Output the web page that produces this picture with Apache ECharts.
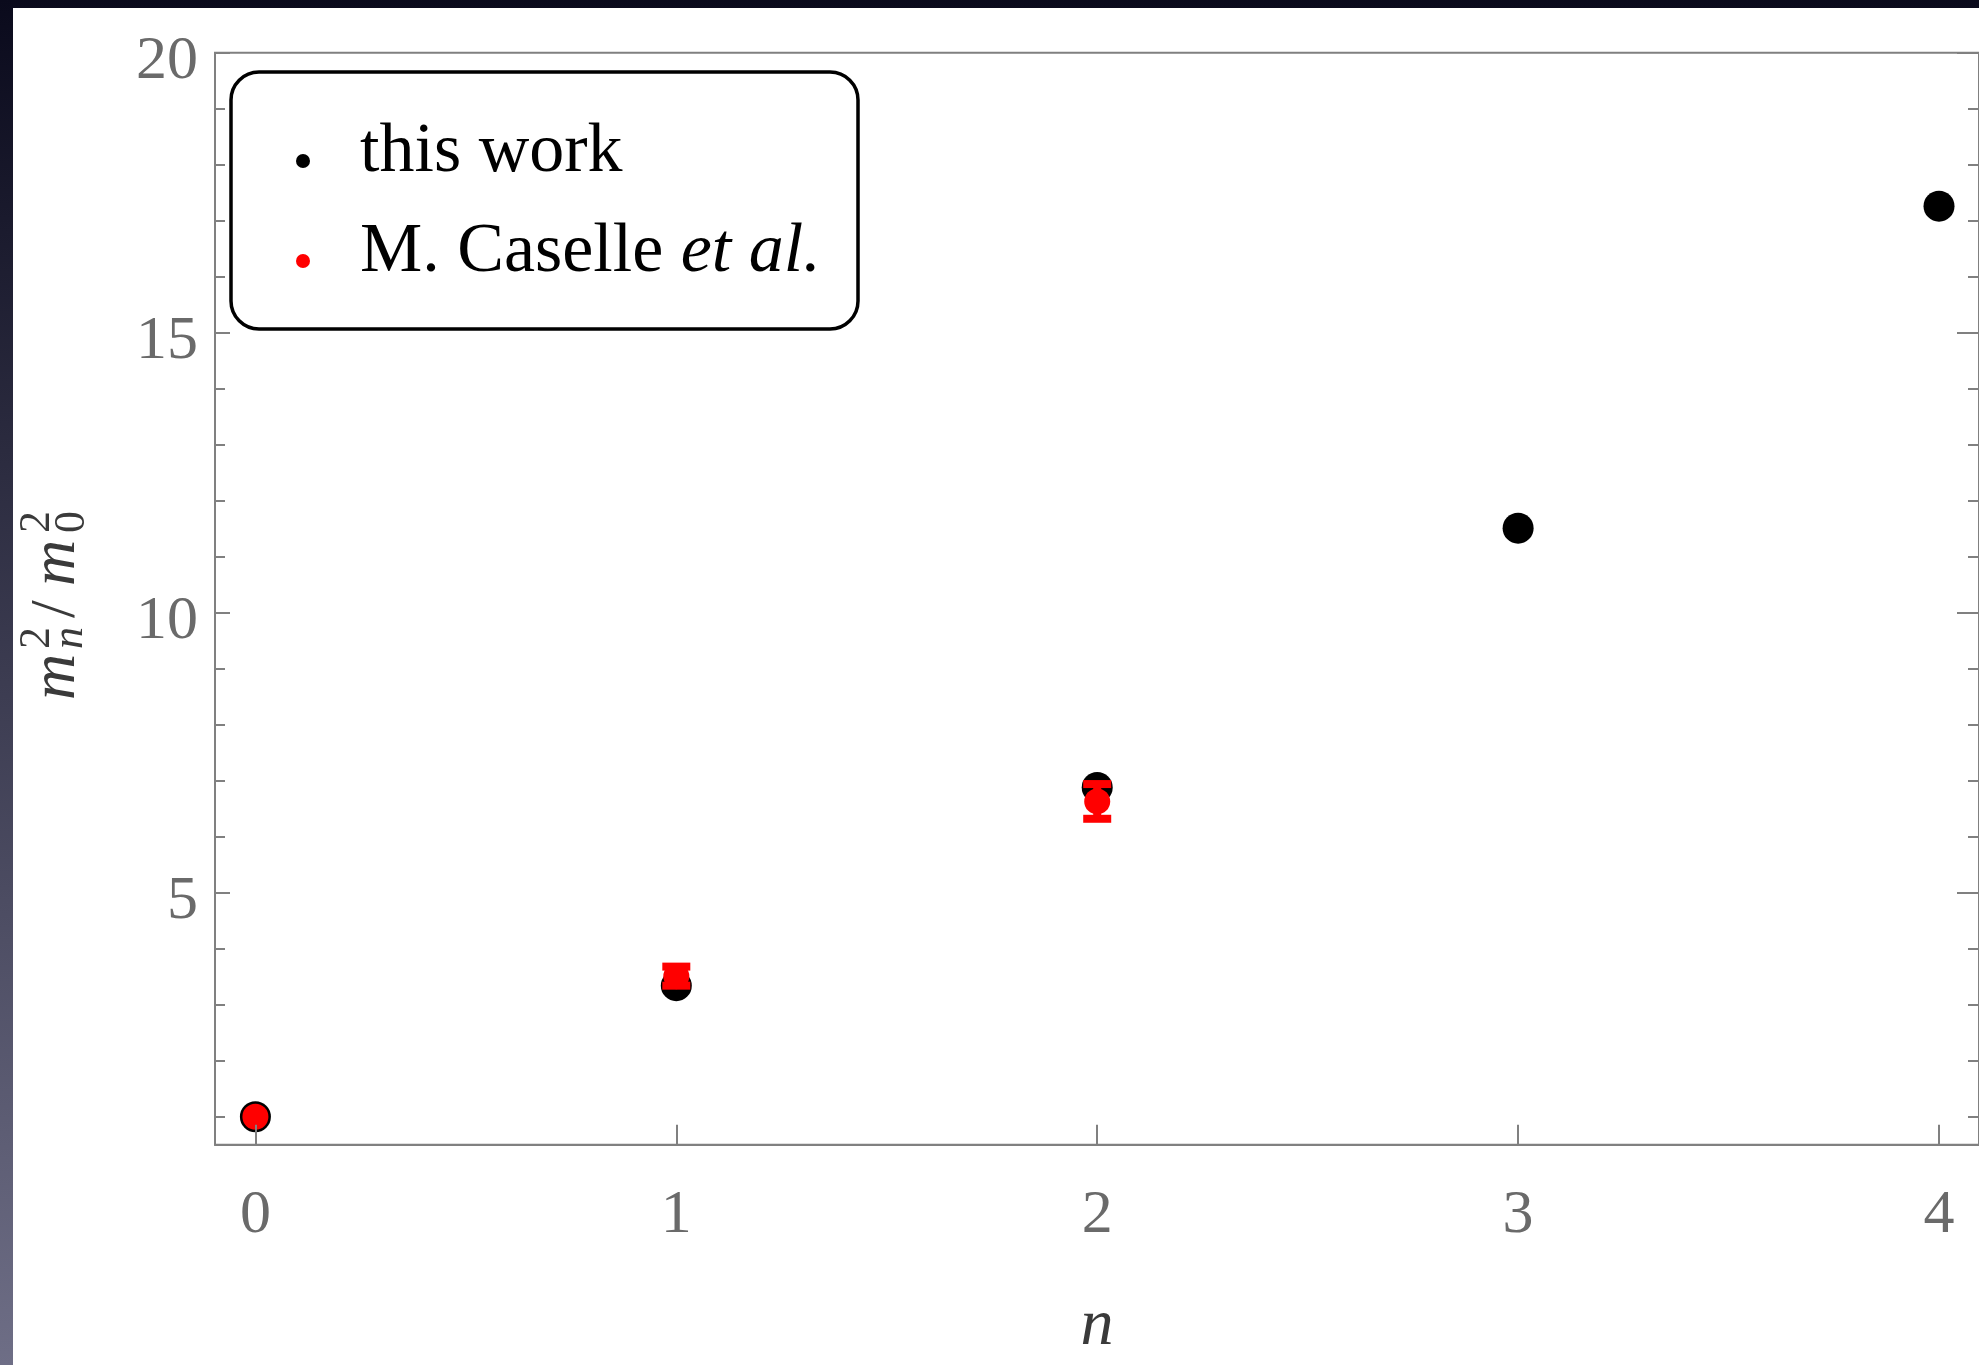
<!DOCTYPE html>
<html><head><meta charset="utf-8">
<script src="https://cdn.jsdelivr.net/npm/echarts@6/dist/echarts.min.js"></script>
<style>
html,body{margin:0;padding:0;width:1979px;height:1365px;overflow:hidden;background:linear-gradient(to bottom,#0a0a1c 0%,#6e6e86 100%);}
#paper{position:absolute;left:13px;top:8px;right:0;bottom:0;background:#fff;}
#chart{position:absolute;left:0;top:0;width:1979px;height:1365px;}
</style></head><body><div id="paper"></div><div id="chart"></div>
<script>
// ---- data ----
const nValues = [0, 1, 2, 3, 4];
const thisWork = [1.00, 3.34, 6.88, 11.51, 17.26];
const caselleN = [0, 1, 2];
const caselle = [1.00, 3.51, 6.63];
const caselleErr = [0, 0.17, 0.31];
const xTicks = [0, 1, 2, 3, 4];
const yMajorTicks = [5, 10, 15, 20];
const yMinorTicks = [1, 2, 3, 4, 6, 7, 8, 9, 11, 12, 13, 14, 16, 17, 18, 19];
const seriesNames = ['this work', 'M. Caselle et al.'];

const FONT = 'Liberation Serif';
const AXIS_COLOR = '#808080';
const LABEL_COLOR = '#6a6a6a';
const TITLE_COLOR = '#3a3a3a';

const chart = echarts.init(document.getElementById('chart'), null, {renderer: 'canvas'});

const yBase = {min: 0.5, max: 20, type: 'value', splitLine: {show: false}};
function yAxisCfg(pos, ticks, len, labels) {
  return Object.assign({}, yBase, {
    position: pos,
    axisLine: {show: false, onZero: false},
    axisTick: {show: true, inside: true, length: len, customValues: ticks,
      lineStyle: {color: AXIS_COLOR, width: 2}},
    axisLabel: labels ? {show: true, customValues: yMajorTicks, margin: 17,
      formatter: function (v) { return '{v|' + v + '}'; },
      rich: {v: {fontFamily: FONT, fontSize: 62, color: LABEL_COLOR, padding: [18, 0, 0, 0]}},
      fontFamily: FONT, fontSize: 62, color: LABEL_COLOR} : {show: false}
  });
}

const option = {
  backgroundColor: 'transparent',
  animation: false,
  grid: {left: 215, top: 52.7, width: 1765, height: 1092, show: true,
    borderColor: AXIS_COLOR, borderWidth: 2, backgroundColor: 'transparent', containLabel: false},
  xAxis: {
    type: 'value', min: -0.096, max: 4.095, z: 10,
    splitLine: {show: false},
    axisLine: {show: true, onZero: false, lineStyle: {color: AXIS_COLOR, width: 2}},
    axisTick: {show: true, inside: true, length: 20, customValues: xTicks,
      lineStyle: {color: AXIS_COLOR, width: 2}},
    axisLabel: {show: true, customValues: xTicks, margin: 40,
      fontFamily: FONT, fontSize: 62, color: LABEL_COLOR},
    name: 'n', nameLocation: 'middle', nameGap: 149,
    nameTextStyle: {fontFamily: FONT, fontStyle: 'italic', fontSize: 66, color: TITLE_COLOR}
  },
  yAxis: [
    yAxisCfg('left', yMajorTicks, 15, true),
    yAxisCfg('left', yMinorTicks, 10, false),
    yAxisCfg('right', yMajorTicks, 22, false),
    yAxisCfg('right', yMinorTicks, 11, false)
  ],
  legend: {
    orient: 'vertical', left: 296, top: 118, padding: 0, itemGap: 14,
    itemWidth: 14, itemHeight: 14, icon: 'circle', selectedMode: false, z: 8,
    data: seriesNames,
    itemStyle: {opacity: 1},
    formatter: function (name) {
      return name === seriesNames[0] ? '{sp|}{t|this work}' : '{sp|}{t|M. Caselle }{i|et al.}';
    },
    textStyle: {
      fontFamily: FONT, fontSize: 70, color: '#000',
      rich: {
        sp: {width: 45},
        t: {fontFamily: FONT, fontSize: 70, color: '#000', lineHeight: 70, padding: [0, 0, 16, 0]},
        i: {fontFamily: FONT, fontSize: 70, fontStyle: 'italic', color: '#000', lineHeight: 70, padding: [0, 0, 16, 0]}
      }
    }
  },
  graphic: [
    {type: 'rect', z: 7, shape: {x: 231, y: 72, width: 627, height: 257, r: 28},
      style: {fill: '#fff', stroke: '#000', lineWidth: 3.5}},
    {type: 'group', x: 76, y: 700, rotation: Math.PI / 2, z: 7, children: [
      {type: 'text', x: 0, y: -19, style: {text: 'm', font: 'italic 64px "Liberation Serif"', fill: TITLE_COLOR, align: 'left', verticalAlign: 'middle'}},
      {type: 'text', x: 51, y: -6, style: {text: 'n', font: 'italic 44px "Liberation Serif"', fill: TITLE_COLOR, align: 'left', verticalAlign: 'middle'}},
      {type: 'text', x: 51, y: -39, style: {text: '2', font: '44px "Liberation Serif"', fill: TITLE_COLOR, align: 'left', verticalAlign: 'middle'}},
      {type: 'text', x: 82, y: -19, style: {text: '/', font: '64px "Liberation Serif"', fill: TITLE_COLOR, align: 'left', verticalAlign: 'middle'}},
      {type: 'text', x: 114, y: -19, style: {text: 'm', font: 'italic 64px "Liberation Serif"', fill: TITLE_COLOR, align: 'left', verticalAlign: 'middle'}},
      {type: 'text', x: 167, y: -4, style: {text: '0', font: '44px "Liberation Serif"', fill: TITLE_COLOR, align: 'left', verticalAlign: 'middle'}},
      {type: 'text', x: 167, y: -39, style: {text: '2', font: '44px "Liberation Serif"', fill: TITLE_COLOR, align: 'left', verticalAlign: 'middle'}}
    ]}
  ],
  series: [
    {
      name: seriesNames[0], type: 'scatter', z: 2, symbol: 'circle', symbolSize: 31,
      itemStyle: {color: '#000', opacity: 1},
      data: nValues.map((n, i) => [n, thisWork[i]])
    },
    {
      name: 'errors', type: 'custom', z: 3,
      data: caselleN.map((n, i) => [n, caselle[i], caselleErr[i]]),
      encode: {x: 0, y: 1},
      renderItem: function (params, api) {
        const x = api.value(0), y = api.value(1), e = api.value(2);
        if (!e) return null;
        const top = api.coord([x, y + e]);
        const bot = api.coord([x, y - e]);
        const w = 28, h = 8;
        const st = {fill: '#ff0000'};
        return {type: 'group', children: [
          {type: 'line', shape: {x1: top[0], y1: top[1], x2: bot[0], y2: bot[1]}, style: {stroke: '#ff0000', lineWidth: 8}},
          {type: 'rect', shape: {x: top[0] - w / 2, y: top[1] - h / 2, width: w, height: h}, style: st},
          {type: 'rect', shape: {x: bot[0] - w / 2, y: bot[1] - h / 2, width: w, height: h}, style: st}
        ]};
      }
    },
    {
      name: seriesNames[1], type: 'scatter', z: 4, symbol: 'circle', symbolSize: 26,
      itemStyle: {color: '#ff0000', opacity: 1},
      data: caselleN.map((n, i) => [n, caselle[i]])
    }
  ]
};
chart.setOption(option);
</script></body></html>
